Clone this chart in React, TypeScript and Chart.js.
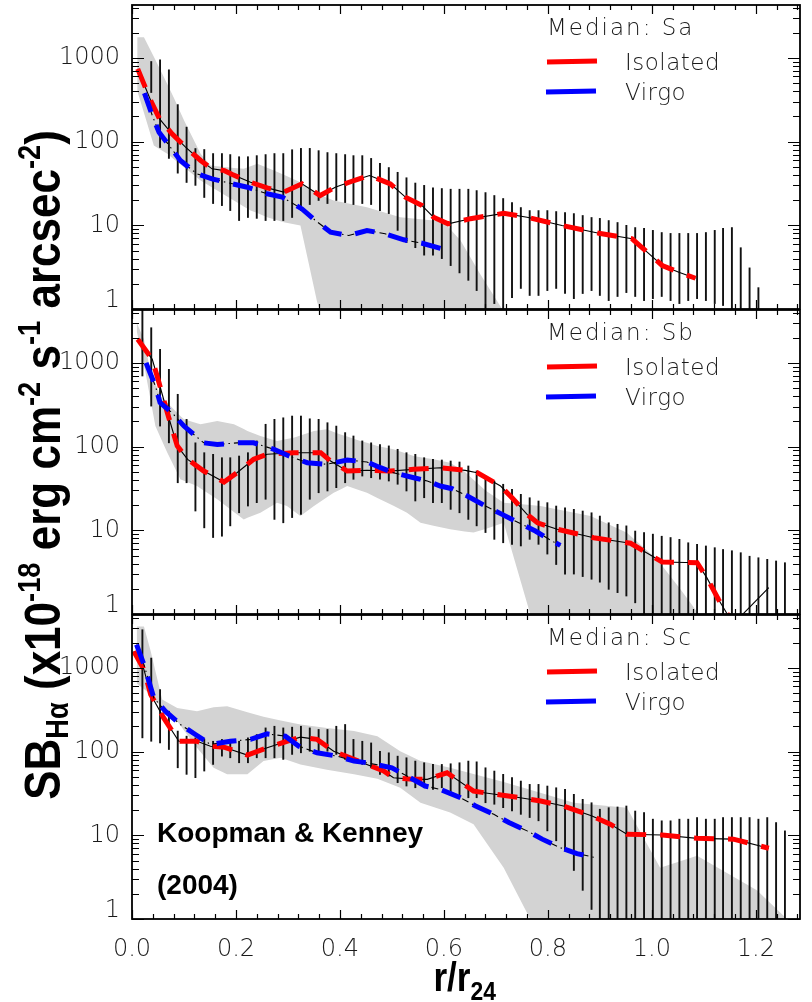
import { useEffect, useRef } from 'react';
import { Chart, registerables } from 'chart.js';

Chart.register(...registerables);

// Radial sampling grid of the error bars (r / r24)
const RADII = [
  0.020, 0.037, 0.054, 0.071, 0.088, 0.105, 0.122, 0.139, 0.156, 0.173,
  0.189, 0.206, 0.223, 0.240, 0.257, 0.274, 0.291, 0.308, 0.325, 0.342,
  0.359, 0.376, 0.393, 0.410, 0.426, 0.443, 0.460, 0.477, 0.494, 0.511,
  0.528, 0.545, 0.562, 0.579, 0.596, 0.613, 0.630, 0.647, 0.663, 0.680,
  0.697, 0.714, 0.731, 0.748, 0.765, 0.782, 0.799, 0.816, 0.833, 0.850,
  0.867, 0.884, 0.900, 0.917, 0.934, 0.951, 0.968, 0.985, 1.002, 1.019,
  1.036, 1.053, 1.070, 1.087, 1.104, 1.121, 1.137, 1.154, 1.171, 1.188,
  1.205, 1.222, 1.239, 1.256,
];

const X_TICKS = [0, 0.2, 0.4, 0.6, 0.8, 1.0, 1.2];
const Y_TICKS = [1, 10, 100, 1000];
const X_MAX = 1.285;
const Y_MIN = 1;
const Y_MAX = 4290;

// ---------- Sa ----------
const SA_ISO_R = [0.011, 0.036, 0.053, 0.077, 0.103, 0.132, 0.154, 0.178, 0.193, 0.228, 0.260, 0.292, 0.327, 0.362, 0.391, 0.427, 0.457, 0.497, 0.526, 0.558, 0.580, 0.608, 0.651, 0.715, 0.760, 0.827, 0.898, 0.962, 0.991, 1.020, 1.052, 1.084];
const SA_ISO_V = [741, 310, 187, 124, 86, 59.5, 47.3, 45, 40.4, 32.7, 28, 24.9, 31.3, 22.7, 28.5, 34.3, 39.4, 31.3, 21.7, 17.2, 12.5, 10.4, 12.0, 13.9, 12.5, 9.95, 8.05, 6.9, 4.78, 3.31, 2.75, 2.33];
const SA_VIR_R = [0.024, 0.039, 0.052, 0.074, 0.093, 0.125, 0.154, 0.193, 0.222, 0.260, 0.289, 0.327, 0.353, 0.382, 0.417, 0.452, 0.487, 0.523, 0.558, 0.597];
const SA_VIR_V = [380, 205, 129, 85.7, 59.5, 41.2, 35.9, 31.3, 28.5, 23.8, 21.7, 15.7, 11.4, 8.27, 7.55, 8.67, 7.91, 6.71, 6.11, 5.24];
const SA_BAND_R = [0.010, 0.023, 0.042, 0.052, 0.068, 0.080, 0.100, 0.132, 0.151, 0.164, 0.183, 0.196, 0.215, 0.228, 0.241, 0.260, 0.273, 0.292, 0.324, 0.340, 0.356, 0.388, 0.452, 0.516, 0.580, 0.600, 0.632, 0.670, 0.712, 0.740];
const SA_BAND_HI = [1770, 1770, 1030, 774, 484, 340, 180, 71.5, 51.8, 50.8, 49.4, 48.5, 47.3, 50.7, 54.3, 48.6, 45.1, 40.1, 32.7, 27.9, 23.8, 19.8, 16.4, 12.5, 11.4, 10.9, 6.6, 2.6, 1.0, 0.5];
const SA_BAND_LO = [408, 221, 89.8, 82, 71.5, 62.2, 49.4, 34.3, 29.1, 26.1, 22.1, 19.8, 16.8, 15.0, 14.0, 12.5, 11.8, 10.9, 9.95, 3.5, 1.22, 0.3, 0.3, 0.3, 0.3, 0.3, 0.3, 0.3, 0.3, 0.3];
const SA_ERR_HI = [
  null, 906, 949, 721, 277, 149, 82.7, 80.5, 72, 72,
  70, 66, 66, 68, 70, 72, 72, 80, 83, 83,
  78, 74, 72, 70, 68, 68, 63, 55, 49, 43,
  37, 32, 30, 28, 27.5, 27, 27, 27, 26, 24.6,
  22.7, 20.9, 18.7, 16.3, 15, 15, 15, 14.6, 14.2, 13.8,
  13.1, 12.4, 12.1, 11.4, 10.8, 10, 9.4, 9.2, 8.7, 8.2,
  8, 8, 8, 8, 8.2, 8.7, 9.2, 9.4, 5.4, 3.1,
  1.8, null, null, null,
];
const SA_ERR_LO = [
  null, 386, 85, 63, 42, 32.5, 30, 21.5, 18.2, 17.2,
  15, 11.4, 12.4, 12.1, 11.4, 11.4, 11.4, 12.4, 15, 17.7,
  19.8, 18.2, 19.8, 18.7, 17.7, 18.2, 17.7, 15, 13.8, 8.7,
  6.2, 5.4, 4.4, 4.4, 4.0, 3.3, 2.7, 2.2, 1.66, 0.8,
  1.16, 0.8, 1.37, 1.76, 1.45, 1.45, 1.66, 1.76, 1.53, 1.33,
  1.53, 1.66, 1.45, 1.26, 1.41, 1.57, 1.41, 1.26, 1.33, 1.41,
  1.26, 1.16, 1.26, 1.33, 1.26, 1.16, 1.1, 0.8, 0.8, 0.8,
  0.8, null, null, null,
];

// ---------- Sb ----------
const SB_ISO_R = [0.011, 0.039, 0.052, 0.068, 0.087, 0.107, 0.138, 0.177, 0.202, 0.234, 0.260, 0.311, 0.363, 0.382, 0.414, 0.452, 0.497, 0.542, 0.593, 0.641, 0.664, 0.709, 0.731, 0.760, 0.780, 0.818, 0.888, 0.959, 0.984, 1.020, 1.087, 1.106, 1.128, 1.145, 1.160, 1.225];
const SB_ISO_V = [1915, 1104, 580, 254, 102, 70.5, 51.1, 37.8, 48.8, 70.5, 80.9, 84.6, 84.6, 67.3, 51.1, 52.1, 51.1, 53.5, 56, 52, 48.8, 33.8, 24.5, 15.5, 12.3, 10.3, 8.16, 7.0, 5.66, 4.18, 4.1, 2.7, 1.5, 1.0, 0.8, 2.06];
const SB_VIR_R = [0.027, 0.045, 0.054, 0.077, 0.100, 0.138, 0.164, 0.202, 0.234, 0.273, 0.302, 0.337, 0.375, 0.414, 0.452, 0.478, 0.503, 0.542, 0.568, 0.593, 0.616, 0.645, 0.680, 0.712, 0.744, 0.776, 0.808, 0.824];
const SB_VIR_V = [1000, 530, 335, 254, 176, 111, 106, 111, 111, 92.9, 77.2, 64.3, 61.5, 69.2, 65.5, 56, 48.8, 42.5, 38.8, 33.8, 31.4, 25.7, 19.5, 15.5, 12.3, 9.8, 7.45, 6.6];
const SB_BAND_R = [0.009, 0.023, 0.036, 0.045, 0.055, 0.068, 0.074, 0.093, 0.100, 0.125, 0.132, 0.164, 0.196, 0.215, 0.222, 0.247, 0.279, 0.298, 0.311, 0.324, 0.350, 0.375, 0.388, 0.401, 0.414, 0.439, 0.452, 0.472, 0.491, 0.503, 0.529, 0.542, 0.555, 0.580, 0.612, 0.640, 0.657, 0.680, 0.715, 0.740, 0.766, 0.786, 0.882, 0.952, 1.010, 1.055, 1.090, 1.120];
const SB_BAND_HI = [3020, 1915, 763, 564, 402, 333, 305, 233, 212, 190, 185, 202, 185, 162, 154, 134, 117, 123, 128, 136, 154, 161, 150, 140, 132, 117, 111, 102, 96.4, 92.9, 82.2, 77.2, 74.8, 70.5, 64.3, 50, 40.3, 30, 21.4, 20.7, 20.0, 19.5, 14.8, 9.36, 4.5, 1.97, 1.0, 0.5];
const SB_BAND_LO = [2400, 966, 353, 176, 128, 84.6, 71, 40.7, 39.1, 33.8, 31.7, 23.5, 16.6, 13.5, 14.1, 16.2, 21.4, 19.5, 17.0, 14.8, 19.5, 24.8, 28.1, 30.8, 33.8, 29.9, 28.1, 24.4, 21.4, 19.6, 16.2, 14.1, 12.3, 11.3, 10.3, 9.7, 9.4, 10.4, 12.3, 3.6, 1.0, 0.5, 0.3, 0.3, 0.3, 0.3, 0.3, 0.3];
const SB_ERR_HI = [
  4300, 2634, 1454, 839, 422, 212, 111, 84.6, 80.9, 73.7,
  73.7, 77.2, 84.6, 117, 185, 212, 221, 232, 232, 215,
  212, 193, 176, 147, 134, 117, 111, 106, 102, 92.9,
  84.6, 80.9, 73.7, 70.5, 69.2, 67.3, 65.5, 58.7, 51.1, 44.5,
  38.8, 35.5, 30.9, 26.9, 24.5, 22.4, 21.4, 19.5, 18.6, 17.8,
  17.0, 16.2, 14.8, 12.3, 11.8, 11.3, 9.8, 9.4, 9.0, 8.5,
  8.2, 7.8, 7.1, 6.8, 6.5, 6.2, 5.9, 5.7, 5.4, 4.9,
  4.7, 4.5, 4.3, 4.1,
];
const SB_ERR_LO = [
  698, 305, 176, 111, 37, 37, 17, 10.7, 8.2, 8.5,
  11.3, 16.2, 19.5, 21.4, 23.5, 13.5, 12.3, 14.2, 15.5, 23.5,
  28.1, 29.5, 32.3, 37, 40.7, 44.5, 42.5, 40.7, 38.8, 35.5,
  29.5, 22.4, 24.5, 21.4, 21.4, 17.8, 16.2, 13.5, 11.3, 9.4,
  7.8, 7.1, 6.8, 6.5, 7.8, 6.8, 5.2, 3.9, 3.0, 3.0,
  2.8, 2.6, 2.4, 1.97, 1.8, 1.64, 1.36, 0.8, 0.8, 0.8,
  0.8, 0.8, 0.8, 0.8, 0.8, 0.8, 0.8, 0.8, 0.8, 0.8,
  0.8, 0.8, 0.8, 0.8,
];

// ---------- Sc ----------
const SC_ISO_R = [0.0035, 0.023, 0.036, 0.061, 0.090, 0.125, 0.151, 0.177, 0.222, 0.260, 0.298, 0.324, 0.356, 0.388, 0.427, 0.484, 0.503, 0.542, 0.568, 0.606, 0.657, 0.677, 0.747, 0.786, 0.830, 0.885, 0.920, 0.952, 1.020, 1.087, 1.157, 1.225];
const SC_ISO_V = [1578, 955, 481, 253, 133, 133, 116, 113, 90.8, 111, 133, 149, 140, 101, 80.7, 58.6, 48.8, 46.6, 46.6, 55.9, 33.8, 32.3, 28.1, 25.7, 22.4, 17.0, 13.6, 10.3, 10.1, 9.2, 9.0, 7.0];
const SC_VIR_R = [0.0087, 0.023, 0.042, 0.064, 0.093, 0.122, 0.151, 0.189, 0.228, 0.260, 0.295, 0.321, 0.356, 0.395, 0.427, 0.452, 0.500, 0.529, 0.564, 0.593, 0.632, 0.661, 0.696, 0.725, 0.760, 0.789, 0.824, 0.856, 0.891];
const SC_VIR_V = [1897, 1094, 438, 304, 211, 160, 122, 133, 140, 163, 153, 116, 96.8, 88.3, 77.1, 73.6, 64.1, 51.0, 38.8, 35.4, 28.1, 22.4, 17.8, 14.2, 11.3, 9.0, 7.1, 6.05, 5.42];
const SC_BAND_R = [0.009, 0.023, 0.036, 0.058, 0.087, 0.125, 0.157, 0.183, 0.222, 0.253, 0.286, 0.324, 0.375, 0.427, 0.472, 0.516, 0.555, 0.612, 0.657, 0.715, 0.766, 0.850, 0.952, 1.016, 1.087, 1.202, 1.260, 1.290];
const SC_BAND_HI = [3130, 3130, 1578, 419, 333, 304, 340, 349, 296, 261, 235, 211, 192, 176, 153, 101, 77.1, 64.1, 54.1, 43.5, 35.1, 24.5, 21.4, 4.1, 5.7, 2.2, 1.0, 0.6];
const SC_BAND_LO = [650, 560, 480, 330, 230, 111, 64.1, 53.5, 53.5, 77.1, 84.4, 70.3, 60.8, 53.8, 47.5, 37.0, 24.5, 18.7, 13.6, 4.1, 1.0, 0.3, 0.3, 0.3, 0.3, 0.3, 0.3, 0.3];
const SC_ERR_HI = [
  2860, 1312, 551, 304, 176, 153, 146, 140, 133, 140,
  140, 133, 146, 160, 192, 201, 192, 196, 201, 192,
  184, 184, 201, 211, 140, 133, 127, 101, 96.8, 88.3,
  84.4, 77.1, 73.6, 70.3, 70.3, 71.6, 73.6, 77.1, 75.5, 64.1,
  58.6, 53.5, 48.8, 44.5, 40.6, 40.6, 38.8, 37.0, 35.4, 30.9,
  26.9, 24.5, 20.5, 21.4, 21.8, 22.4, 19.5, 18.7, 15.6, 14.9,
  14.9, 15.6, 15.6, 16.3, 15.6, 15.6, 16.3, 16.3, 16.3, 16.3,
  15.6, 16.3, 14.2, 11.3,
];
const SC_ERR_LO = [
  146, 133, 127, 106, 64.1, 53.5, 48.8, 58.6, 70.3, 88.3,
  84.4, 73.6, 73.6, 84.4, 84.4, 84.4, 80.7, 92.6, 96.8, 101,
  101, 101, 92.6, 80.7, 77.1, 70.3, 64.1, 53.5, 51.0, 42.5,
  38.8, 37.0, 37.0, 35.4, 37.0, 32.3, 29.5, 28.1, 28.1, 24.5,
  23.5, 21.4, 19.5, 17.8, 16.3, 14.9, 11.3, 8.6, 6.5, 3.8,
  2.2, 1.3, 0.8, 0.8, 0.8, 0.8, 0.8, 0.8, 0.8, 0.8,
  0.8, 0.8, 0.8, 0.8, 0.8, 0.8, 0.8, 0.8, 0.8, 0.8,
  0.8, 0.8, 0.8, 0.8,
];

interface PanelData {
  label: string;
  isoR: number[]; isoV: number[];
  dashedTo: number;
  virR: number[]; virV: number[];
  bandR: number[]; bandHi: number[]; bandLo: number[];
  errHi: (number | null)[]; errLo: (number | null)[];
}

const PANELS: PanelData[] = [
  { label: 'Median: Sa', isoR: SA_ISO_R, isoV: SA_ISO_V, dashedTo: 2, virR: SA_VIR_R, virV: SA_VIR_V,
    bandR: SA_BAND_R, bandHi: SA_BAND_HI, bandLo: SA_BAND_LO, errHi: SA_ERR_HI, errLo: SA_ERR_LO },
  { label: 'Median: Sb', isoR: SB_ISO_R, isoV: SB_ISO_V, dashedTo: 1.16, virR: SB_VIR_R, virV: SB_VIR_V,
    bandR: SB_BAND_R, bandHi: SB_BAND_HI, bandLo: SB_BAND_LO, errHi: SB_ERR_HI, errLo: SB_ERR_LO },
  { label: 'Median: Sc', isoR: SC_ISO_R, isoV: SC_ISO_V, dashedTo: 2, virR: SC_VIR_R, virV: SC_VIR_V,
    bandR: SC_BAND_R, bandHi: SC_BAND_HI, bandLo: SC_BAND_LO, errHi: SC_ERR_HI, errLo: SC_ERR_LO },
];

// Layout
const W = 812;
const H = 1002;
const PLOT_LEFT = 132;
const PLOT_RIGHT = 800;
const PANEL_TOPS = [5, 310, 615];
const PANEL_HEIGHT = 304;

const BAND_GREY = '#d3d3d3';
const THIN_FONT = '"DejaVu Sans", "Noto Sans", sans-serif';
const BOLD_FONT = '"Liberation Sans", Arial, sans-serif';
const TICK_FONT = { family: THIN_FONT, size: 24, weight: '200' as const, lineHeight: 1.2 };

const Y_TITLE_RUNS: [string, 'n' | 'sub' | 'sup'][] = [
  ['SB', 'n'], ['H\u03b1', 'sub'], [' (x10', 'n'], ['-18', 'sup'], [' erg cm', 'n'],
  ['-2', 'sup'], [' s', 'n'], ['-1', 'sup'], [' arcsec', 'n'], ['-2', 'sup'], [')', 'n'],
];

function drawYTitle(ctx: CanvasRenderingContext2D) {
  const big = `bold 50px ${BOLD_FONT}`;
  const small = `bold 31px ${BOLD_FONT}`;
  ctx.save();
  ctx.translate(60, 465);
  ctx.rotate(-Math.PI / 2);
  ctx.scale(0.88, 1);
  ctx.fillStyle = '#000';
  ctx.textBaseline = 'alphabetic';
  let total = 0;
  for (const [t, k] of Y_TITLE_RUNS) {
    ctx.font = k === 'n' ? big : small;
    total += ctx.measureText(t).width;
  }
  let x = -total / 2;
  for (const [t, k] of Y_TITLE_RUNS) {
    ctx.font = k === 'n' ? big : small;
    const dy = k === 'sub' ? 8 : k === 'sup' ? -20 : 0;
    ctx.fillText(t, x, dy);
    x += ctx.measureText(t).width;
  }
  ctx.restore();
}

function drawXTitle(ctx: CanvasRenderingContext2D, cx: number) {
  ctx.save();
  ctx.fillStyle = '#000';
  ctx.textBaseline = 'alphabetic';
  ctx.font = `bold 40px ${BOLD_FONT}`;
  const w1 = ctx.measureText('r/r').width;
  ctx.font = `bold 26px ${BOLD_FONT}`;
  const w2 = ctx.measureText('24').width;
  const c = 0.88;
  ctx.translate(cx - ((w1 + w2) * c) / 2, 0);
  ctx.scale(c, 1);
  ctx.font = `bold 40px ${BOLD_FONT}`;
  ctx.fillText('r/r', 0, 991);
  ctx.font = `bold 26px ${BOLD_FONT}`;
  ctx.fillText('24', w1, 1000);
  ctx.restore();
}

function makeDecor(p: PanelData, isLast: boolean) {
  return {
    id: 'panelDecor',
    afterDraw(chart: any) {
      const { ctx, chartArea: a } = chart;
      const xs = chart.scales.x;
      const ys = chart.scales.y;
      ctx.save();
      // inward tick marks on all four sides
      ctx.strokeStyle = '#000';
      ctx.lineWidth = 1.2;
      ctx.beginPath();
      for (let d = 1; d < Y_MAX; d *= 10) {
        for (let m = 1; m < 10; m++) {
          const v = d * m;
          if (v > Y_MAX) break;
          const y = Math.round(ys.getPixelForValue(v)) + 0.5;
          const len = m === 1 ? 12 : 7;
          ctx.moveTo(a.left, y); ctx.lineTo(a.left + len, y);
          ctx.moveTo(a.right, y); ctx.lineTo(a.right - len, y);
        }
      }
      for (let k = 0; k * 0.04 <= X_MAX; k++) {
        const x = Math.round(xs.getPixelForValue(k * 0.04)) + 0.5;
        const len = k % 5 === 0 ? 9 : 5;
        ctx.moveTo(x, a.bottom); ctx.lineTo(x, a.bottom - len);
        ctx.moveTo(x, a.top); ctx.lineTo(x, a.top + len);
      }
      ctx.stroke();
      ctx.lineWidth = 1.8;
      ctx.strokeRect(a.left, a.top, a.right - a.left, a.bottom - a.top);

      // legend block
      const T = a.top;
      ctx.fillStyle = '#1a1a1a';
      ctx.font = `200 23px ${THIN_FONT}`;
      ctx.textBaseline = 'alphabetic';
      (ctx as any).letterSpacing = '2px';
      ctx.fillText(p.label, 547, T + 30);
      (ctx as any).letterSpacing = '0.5px';
      ctx.fillText('Isolated', 625, T + 65);
      ctx.fillText('Virgo', 625, T + 95);
      (ctx as any).letterSpacing = '0px';
      ctx.lineWidth = 5;
      ctx.lineCap = 'butt';
      ctx.strokeStyle = '#ff0000';
      ctx.beginPath(); ctx.moveTo(547, T + 57); ctx.lineTo(597, T + 56); ctx.stroke();
      ctx.strokeStyle = '#0000ff';
      ctx.beginPath(); ctx.moveTo(546, T + 87); ctx.lineTo(596, T + 86); ctx.stroke();

      if (isLast) {
        ctx.fillStyle = '#000';
        ctx.font = `bold 28px ${BOLD_FONT}`;
        ctx.fillText('Koopman & Kenney', 157, 842);
        ctx.fillText('(2004)', 157, 894);
        drawXTitle(ctx, xs.getPixelForValue(0.64));
        drawYTitle(ctx);
      }
      ctx.restore();
    },
  };
}

function buildConfig(p: PanelData, k: number): any {
  const top = PANEL_TOPS[k];
  const bottom = top + PANEL_HEIGHT;
  const isLast = k === PANELS.length - 1;
  const pts = (rs: number[], vs: number[]) => rs.map((r, i) => ({ x: r, y: vs[i] }));
  const iso = pts(p.isoR, p.isoV);
  const vir = pts(p.virR, p.virV);
  const errors = RADII
    .map((r, i) => (p.errHi[i] == null ? null : { x: r, y: [p.errLo[i], p.errHi[i]] }))
    .filter(Boolean);

  return {
    type: 'line',
    data: {
      datasets: [
        { type: 'line', data: vir, borderColor: '#0000ff', borderWidth: 5, borderDash: [20, 14], order: 1, clip: 0 },
        { type: 'line', data: vir, borderColor: '#000000', borderWidth: 1.1, borderDash: [7, 4, 1.5, 4], order: 2, clip: 0 },
        { type: 'line', data: iso.filter((q) => q.x <= p.dashedTo), borderColor: '#ff0000', borderWidth: 5, borderDash: [20, 14], order: 3, clip: 0 },
        { type: 'line', data: iso, borderColor: '#000000', borderWidth: 1.1, order: 4, clip: 0 },
        { type: 'bar', data: errors, backgroundColor: '#111111', barThickness: 1.25, borderWidth: 0, order: 5, clip: 0 },
        { type: 'line', data: pts(p.bandR, p.bandHi), borderColor: 'rgba(0,0,0,0)', borderWidth: 0, backgroundColor: BAND_GREY, fill: '+1', order: 6, clip: 0 },
        { type: 'line', data: pts(p.bandR, p.bandLo), borderColor: 'rgba(0,0,0,0)', borderWidth: 0, fill: false, order: 7, clip: 0 },
      ],
    },
    options: {
      responsive: false,
      animation: false,
      events: [],
      layout: {
        padding: { left: 0, right: W - PLOT_RIGHT, top, bottom: isLast ? 0 : H - bottom },
      },
      plugins: { legend: { display: false }, tooltip: { enabled: false } },
      elements: { point: { radius: 0 }, line: { tension: 0, borderCapStyle: 'butt' } },
      scales: {
        x: {
          type: 'linear',
          min: 0,
          max: X_MAX,
          bounds: 'data',
          offset: false,
          display: isLast,
          grid: { display: false, drawTicks: false },
          border: { display: false },
          ticks: {
            font: TICK_FONT,
            color: '#1a1a1a',
            padding: 16,
            maxRotation: 0,
            autoSkip: false,
            callback: (v: number) => Number(v).toFixed(1),
          },
          afterBuildTicks: (s: any) => { s.ticks = X_TICKS.map((v) => ({ value: v })); },
          afterFit: (s: any) => {
            if (isLast) s.height = H - bottom;
            s.paddingLeft = 0;
            s.paddingRight = 0;
          },
        },
        y: {
          type: 'logarithmic',
          min: Y_MIN,
          max: Y_MAX,
          bounds: 'data',
          grid: { display: false, drawTicks: false },
          border: { display: false },
          ticks: {
            // the lowest label sits just above the panel edge
            font: (c: any) => ({ ...TICK_FONT, lineHeight: c.tick && c.tick.value === 1 ? 0.66 : 1.2 }),
            color: '#1a1a1a',
            padding: 12,
            autoSkip: false,
            callback: (v: number) => (v === 1 ? ['1', ''] : String(v)),
          },
          afterBuildTicks: (s: any) => { s.ticks = Y_TICKS.map((v) => ({ value: v })); },
          afterFit: (s: any) => { s.width = PLOT_LEFT; s.paddingTop = 0; s.paddingBottom = 0; },
        },
      },
    },
    plugins: [makeDecor(p, isLast)],
  };
}

export default function App() {
  const canvases = useRef<(HTMLCanvasElement | null)[]>([]);

  useEffect(() => {
    const charts = PANELS.map((p, k) => new Chart(canvases.current[k] as HTMLCanvasElement, buildConfig(p, k)));
    return () => charts.forEach((c) => c.destroy());
  }, []);

  return (
    <div style={{ position: 'absolute', left: 0, top: 0, width: W, height: H, background: '#ffffff' }}>
      {PANELS.map((p, k) => (
        <canvas
          key={p.label}
          ref={(el) => { canvases.current[k] = el; }}
          width={W}
          height={H}
          style={{ position: 'absolute', left: 0, top: 0, width: W, height: H }}
        />
      ))}
    </div>
  );
}
